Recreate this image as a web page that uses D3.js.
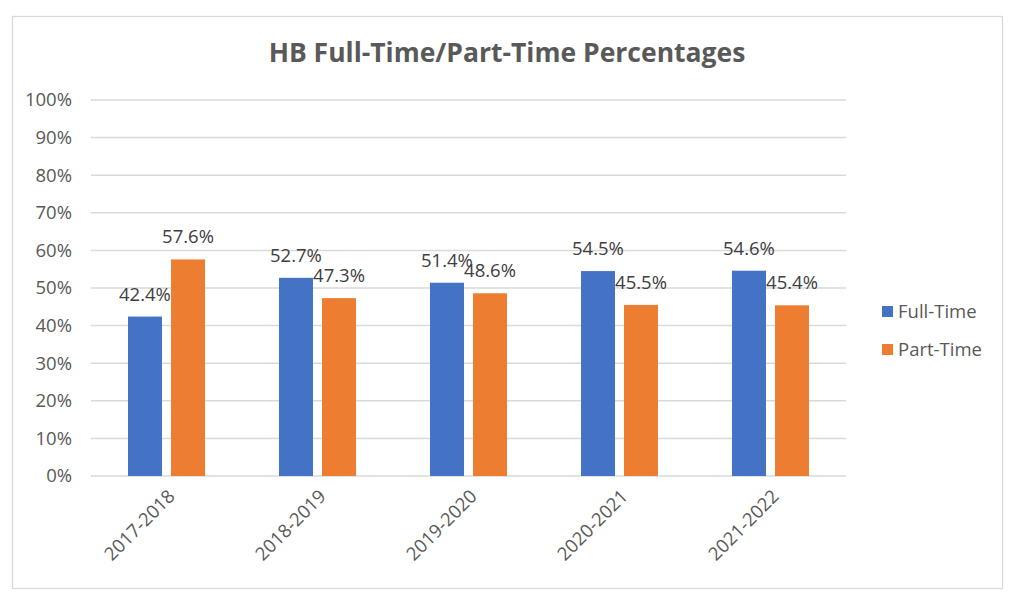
<!DOCTYPE html>
<html>
<head>
<meta charset="utf-8">
<script src="https://cdn.jsdelivr.net/npm/d3@7"></script>
<style>
  body { margin: 0; background: #fff; }
  text { font-family: "Open Sans", "Noto Sans", sans-serif; }
</style>
</head>
<body>
<div id="chart"></div>
<script>
// chart data
var years = ["2017-2018", "2018-2019", "2019-2020", "2020-2021", "2021-2022"];
var fullTime = [42.4, 52.7, 51.4, 54.5, 54.6];
var partTime = [57.6, 47.3, 48.6, 45.5, 45.4];
var seriesNames = ["Full-Time", "Part-Time"];
var yTicks = [0, 10, 20, 30, 40, 50, 60, 70, 80, 90, 100];

var colors = ["#4472C4", "#ED7D31"];

var svgWidth = 1016;
var svgHeight = 601;
var fontSize = 18.5;

var margin = { top: 100, right: 170, bottom: 125, left: 91 };
var width = 846 - margin.left;
var height = 476 - margin.top;

var svg = d3.select("#chart")
    .append("svg")
    .attr("width", svgWidth)
    .attr("height", svgHeight);

// outer chart border
svg.append("rect")
    .attr("x", 12.5).attr("y", 16.5)
    .attr("width", 990).attr("height", 572)
    .attr("fill", "#fff")
    .attr("stroke", "#d9d9d9")
    .attr("stroke-width", 1.3);

svg.append("text")
    .attr("x", 507)
    .attr("y", 62)
    .attr("text-anchor", "middle")
    .attr("font-size", 26.5)
    .attr("font-weight", "bold")
    .attr("fill", "#595959")
    .text("HB Full-Time/Part-Time Percentages");

var chartGroup = svg.append("g")
    .attr("transform", `translate(${margin.left}, ${margin.top})`);

// scales
var x0 = d3.scaleBand()
    .domain(years)
    .range([0, width])
    .paddingInner(0)
    .paddingOuter(0);

var groupW = 77;
var x1 = d3.scaleBand()
    .domain(seriesNames)
    .range([(x0.bandwidth() - groupW) / 2, (x0.bandwidth() + groupW) / 2])
    .paddingInner(0.21);

var y = d3.scaleLinear()
    .domain([0, 100])
    .range([height, 0]);

// gridlines
chartGroup.append("g")
    .selectAll("line")
    .data(yTicks)
    .enter()
    .append("line")
    .attr("x1", 0)
    .attr("x2", width)
    .attr("y1", d => y(d))
    .attr("y2", d => y(d))
    .attr("stroke", "#d9d9d9")
    .attr("stroke-width", 1.5);

// y axis
var leftAxis = d3.axisLeft(y)
    .tickValues(yTicks)
    .tickSize(0)
    .tickPadding(19)
    .tickFormat(d => d + "%");

var yAxisG = chartGroup.append("g").call(leftAxis);
yAxisG.select(".domain").remove();
yAxisG.selectAll("text")
    .attr("font-size", fontSize)
    .attr("fill", "#595959")
    .attr("font-family", "Open Sans");

// x axis
var bottomAxis = d3.axisBottom(x0).tickSize(0).tickPadding(0);
var xAxisG = chartGroup.append("g")
    .attr("transform", `translate(0, ${height})`)
    .call(bottomAxis);
xAxisG.select(".domain").remove();
xAxisG.selectAll("text")
    .attr("font-size", fontSize)
    .attr("fill", "#595959")
    .attr("font-family", "Open Sans")
    .attr("text-anchor", "end")
    .attr("dy", "0.35em")
    .attr("transform", "translate(5, 17) rotate(-45)");

// bars
var rows = years.map((yr, i) => ({ year: yr, values: [fullTime[i], partTime[i]] }));

var groups = chartGroup.selectAll(".yearGroup")
    .data(rows)
    .enter()
    .append("g")
    .attr("class", "yearGroup")
    .attr("transform", d => `translate(${x0(d.year)}, 0)`);

groups.selectAll("rect")
    .data(d => d.values.map((v, j) => ({ name: seriesNames[j], value: v, idx: j })))
    .enter()
    .append("rect")
    .attr("x", d => x1(d.name))
    .attr("y", d => y(d.value))
    .attr("width", x1.bandwidth())
    .attr("height", d => height - y(d.value))
    .attr("fill", d => colors[d.idx]);

// value labels, centred over each bar
groups.selectAll(".barLabel")
    .data(d => d.values.map((v, j) => ({ name: seriesNames[j], value: v, idx: j })))
    .enter()
    .append("text")
    .attr("class", "barLabel")
    .attr("x", d => x1(d.name) + x1.bandwidth() / 2)
    .attr("y", d => y(d.value) - 16)
    .attr("text-anchor", "middle")
    .attr("font-size", fontSize)
    .attr("fill", "#404040")
    .text(d => d.value.toFixed(1) + "%");

// legend
var legend = svg.append("g")
    .attr("transform", "translate(882, 306)");

var items = legend.selectAll("g")
    .data(seriesNames)
    .enter()
    .append("g")
    .attr("transform", (d, i) => `translate(0, ${i * 38})`);

items.append("rect")
    .attr("width", 11)
    .attr("height", 11)
    .attr("fill", (d, i) => colors[i]);

items.append("text")
    .attr("x", 16)
    .attr("y", 11.5)
    .attr("font-size", fontSize)
    .attr("fill", "#595959")
    .text(d => d);
</script>
</body>
</html>
